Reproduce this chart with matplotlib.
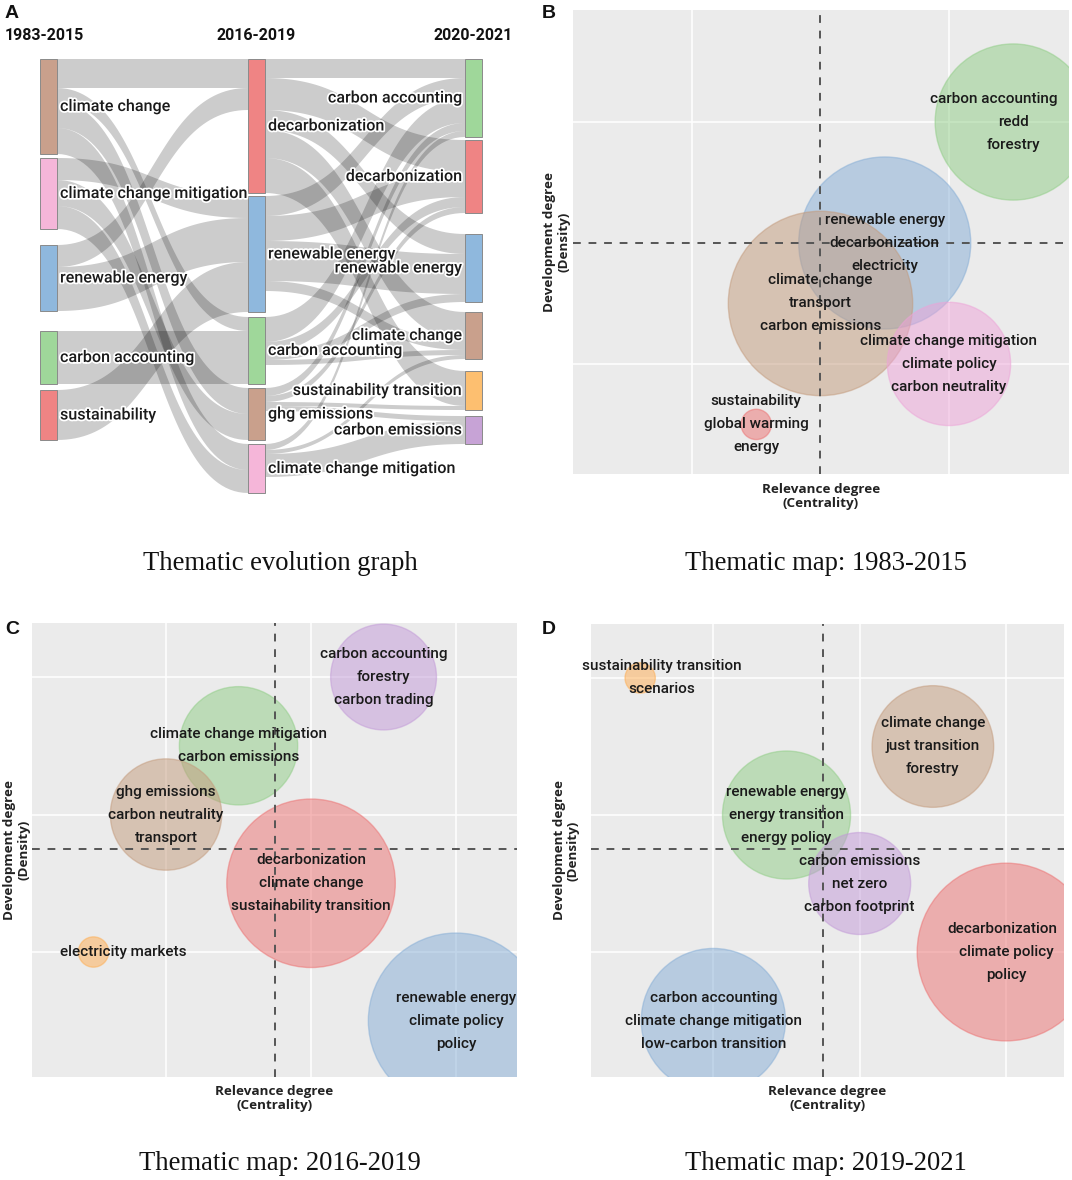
import numpy as np
import matplotlib
matplotlib.use("Agg")
import matplotlib.pyplot as plt
from matplotlib.patches import Polygon, Rectangle
import matplotlib.patheffects as pe
from matplotlib import font_manager

# ------------------------------------------------------------------ data
# Panel A : thematic evolution (Sankey)
periods = ["1983-2015", "2016-2019", "2020-2021"]
nodes_p1 = ["climate change", "climate change mitigation", "renewable energy",
            "carbon accounting", "sustainability"]
nodes_p2 = ["decarbonization", "renewable energy", "carbon accounting",
            "ghg emissions", "climate change mitigation"]
nodes_p3 = ["carbon accounting", "decarbonization", "renewable energy",
            "climate change", "sustainability transition", "carbon emissions"]
# flows period1 -> period2 (rows: nodes_p1, cols: nodes_p2)
flows_12 = [
    [29, 0, 14, 26, 26],
    [0, 22, 0, 26, 23],
    [22, 44, 0, 0, 0],
    [0, 0, 53, 0, 0],
    [0, 50, 0, 0, 0],
]
# flows period2 -> period3 (rows: nodes_p2, cols: nodes_p3)
flows_23 = [
    [19, 32, 20, 28, 35, 0],
    [20, 25, 40, 10, 0, 0],
    [25, 10, 8, 5, 0, 0],
    [8, 6, 0, 0, 4, 5],
    [6, 0, 0, 4, 0, 23],
]

# Panel B : thematic map 1983-2015
B_labels = ["carbon accounting\nredd\nforestry",
            "renewable energy\ndecarbonization\nelectricity",
            "climate change\ntransport\ncarbon emissions",
            "climate change mitigation\nclimate policy\ncarbon neutrality",
            "sustainability\nglobal warming\nenergy"]
B_centrality = [2.25, 1.75, 1.5, 2.0, 1.25]
B_density = [2.0, 1.5, 1.25, 1.0, 0.75]
B_freq = [61, 74, 85, 38, 2.3]

# Panel C : thematic map 2016-2019
C_labels = ["carbon accounting\nforestry\ncarbon trading",
            "climate change mitigation\ncarbon emissions",
            "ghg emissions\ncarbon neutrality\ntransport",
            "decarbonization\nclimate change\nsustainability transition",
            "electricity markets",
            "renewable energy\nclimate policy\npolicy"]
C_centrality = [2.5, 1.5, 1.0, 2.0, 0.5, 3.0]
C_density = [3.0, 2.5, 2.0, 1.5, 1.0, 0.5]
C_freq = [28, 35, 31, 71, 2.3, 77]

# Panel D : thematic map 2019-2021
D_labels = ["sustainability transition\nscenarios",
            "climate change\njust transition\nforestry",
            "renewable energy\nenergy transition\nenergy policy",
            "carbon emissions\nnet zero\ncarbon footprint",
            "decarbonization\nclimate policy\npolicy",
            "carbon accounting\nclimate change mitigation\nlow-carbon transition"]
D_centrality = [0.5, 2.5, 1.5, 2.0, 3.0, 1.0]
D_density = [3.0, 2.5, 2.0, 1.5, 1.0, 0.5]
D_freq = [2.3, 37, 41, 26, 79, 52]

captions = ["Thematic evolution graph", "Thematic map: 1983-2015",
            "Thematic map: 2016-2019", "Thematic map: 2019-2021"]

# ------------------------------------------------------------------ style
BROWN, PINK, BLUE, GREEN = "#c9a08c", "#f5b6d9", "#8fb8dd", "#9fd79a"
RED, ORANGE, PURPLE = "#ef8484", "#fdbf70", "#c7a3d6"
node_colors = [[BROWN, PINK, BLUE, GREEN, RED],
               [RED, BLUE, GREEN, BROWN, PINK],
               [GREEN, RED, BLUE, BROWN, ORANGE, PURPLE]]
BUB = {"green": "#8fcd85", "blue": "#85add6", "brown": "#c39a7b",
       "pink": "#eda3d8", "red": "#ec7070", "orange": "#ffad50",
       "purple": "#c299d8"}
B_colors = [BUB[c] for c in ["green", "blue", "brown", "pink", "red"]]
C_colors = [BUB[c] for c in ["purple", "green", "brown", "red", "orange", "blue"]]
D_colors = [BUB[c] for c in ["orange", "brown", "green", "purple", "red", "blue"]]

avail = {f.name for f in font_manager.fontManager.ttflist}
SANS = "Roboto" if "Roboto" in avail else "DejaVu Sans"
LABF = "Open Sans" if "Open Sans" in avail else SANS
NARROW = "Liberation Sans Narrow" if "Liberation Sans Narrow" in avail else None
SERIF = "Liberation Serif" if "Liberation Serif" in avail else "DejaVu Serif"
ARIAL = "Liberation Sans" if "Liberation Sans" in avail else "DejaVu Sans"

W, H, DPI = 1072, 1180, 100
fig = plt.figure(figsize=(W / DPI, H / DPI), dpi=DPI)
fig.patch.set_facecolor("white")
renderer = fig.canvas.get_renderer()


def px_axes(x0, y0, x1, y1):
    return fig.add_axes([x0 / W, 1 - y1 / H, (x1 - x0) / W, (y1 - y0) / H])


def fig_text(x, y, s, **kw):
    return fig.text(x / W, 1 - y / H, s, **kw)


# ------------------------------------------------------------------ Panel A
axA = px_axes(0, 0, 540, 520)
axA.set_xlim(0, 540)
axA.set_ylim(520, 0)
axA.axis("off")

F12 = np.array(flows_12, float)
F23 = np.array(flows_23, float)
vals = [F12.sum(1), np.maximum(F12.sum(0), F23.sum(1)), F23.sum(0)]
col_x = [40, 248, 465]
node_w = 17
top = 59
gaps = [[4, 16, 20, 6], [3, 5, 4, 4], [3, 21, 10, 12, 6]]

node_y = []
for c in range(3):
    ys = []
    y = top
    for i, v in enumerate(vals[c]):
        ys.append(y)
        y += v + (gaps[c][i] if i < len(gaps[c]) else 0)
    node_y.append(ys)


def band(x0, y0a, y0b, x1, y1a, y1b, n=60):
    t = np.linspace(0, 1, n)
    xm = (x0 + x1) / 2
    X = (1 - t) ** 3 * x0 + 3 * (1 - t) ** 2 * t * xm + 3 * (1 - t) * t ** 2 * xm + t ** 3 * x1

    def yy(a, b):
        return (1 - t) ** 3 * a + 3 * (1 - t) ** 2 * t * a + 3 * (1 - t) * t ** 2 * b + t ** 3 * b
    top_c = np.column_stack([X, yy(y0a, y1a)])
    bot_c = np.column_stack([X, yy(y0b, y1b)])
    return np.vstack([top_c, bot_c[::-1]])


for c, F in enumerate([F12, F23]):
    ns, nt = F.shape
    in_pos = np.zeros_like(F)
    for j in range(nt):
        y = node_y[c + 1][j]
        for i in range(ns):
            in_pos[i, j] = y
            y += F[i, j]
    for i in range(ns):
        y = node_y[c][i]
        for j in range(nt):
            v = F[i, j]
            if v <= 0:
                continue
            poly = band(col_x[c] + node_w, y, y + v, col_x[c + 1],
                        in_pos[i, j], in_pos[i, j] + v)
            axA.add_patch(Polygon(poly, closed=True, facecolor="black",
                                  alpha=0.2, edgecolor="none", zorder=1))
            y += v

halo = [pe.withStroke(linewidth=2.5, foreground="white")]
node_names = [nodes_p1, nodes_p2, nodes_p3]
for c in range(3):
    for i, name in enumerate(node_names[c]):
        y0 = node_y[c][i]
        v = vals[c][i]
        axA.add_patch(Rectangle((col_x[c], y0), node_w, v,
                                facecolor=node_colors[c][i], edgecolor="#8a8a8a",
                                lw=0.7, zorder=3))
        kw = dict(va="center", fontsize=11.6, family=SANS, fontweight="medium",
                  color="#1a1a1a", path_effects=halo, zorder=5)
        if c < 2:
            axA.text(col_x[c] + node_w + 3, y0 + v / 2, name, ha="left", **kw)
        else:
            axA.text(col_x[c] - 3, y0 + v / 2, name, ha="right", **kw)

for c in range(3):
    cx = col_x[c] + node_w / 2
    kw = dict(va="center", fontweight="bold", color="#111111")
    if NARROW:
        kw.update(family=NARROW, fontsize=13.5)
    else:
        kw.update(family=SANS, fontsize=11.5)
    if c == 0:
        axA.text(5, 36, periods[c], ha="left", **kw)
    else:
        axA.text(cx, 36, periods[c], ha="center", **kw)


# ------------------------------------------------------------------ maps
LINE_PX = 23          # distance between label lines (pixels)
RIGHT_LIMIT = 1057    # labels never run past this pixel column


def thematic_map(rect, labels, cx, cy, freq, colors, ref, xlim, ylim, grid,
                 label_dx, ylab_x):
    x0, y0, x1, y1 = rect
    ax = px_axes(x0, y0, x1, y1)
    ax.set_facecolor("#ebebeb")
    ax.set_xlim(*xlim)
    ax.set_ylim(*ylim)
    ax.set_xticks(grid)
    ax.set_yticks(grid)
    ax.tick_params(length=0, labelbottom=False, labelleft=False)
    ax.grid(True, color="white", lw=1.1)
    ax.set_axisbelow(True)
    for s in ax.spines.values():
        s.set_visible(False)
    r = 10 * np.sqrt(np.asarray(freq, float))
    sizes = (2 * r * 72 / DPI) ** 2
    ax.scatter(cx, cy, s=sizes, c=colors, alpha=0.5, edgecolors=colors,
               linewidths=1.0, zorder=2)
    ax.axvline(ref[0], color="#555555", ls=(0, (4, 4)), lw=1.4, zorder=3)
    ax.axhline(ref[1], color="#555555", ls=(0, (4, 4)), lw=1.4, zorder=3)
    pt = 72 / DPI
    for k, lab in enumerate(labels):
        lines = lab.split("\n")
        n = len(lines)
        for m, line in enumerate(lines):
            dy = -(m - (n - 1) / 2) * LINE_PX
            t = ax.annotate(line, (cx[k], cy[k]),
                            xytext=(label_dx[k] * pt, dy * pt),
                            textcoords="offset points", ha="center", va="center",
                            fontsize=11.0, family=SANS, fontweight="medium",
                            color="#1a1a1a", zorder=5, annotation_clip=False)
            bb = t.get_window_extent(renderer)
            if bb.x1 > RIGHT_LIMIT:
                shift = bb.x1 - RIGHT_LIMIT
                t.xyann = ((label_dx[k] - shift) * pt, dy * pt)
    fig_text((x0 + x1) / 2, y1 + 22, "Relevance degree\n(Centrality)",
             ha="center", va="center", fontsize=9.7, fontweight="bold",
             family=LABF, color="#222222", linespacing=1.1)
    fig_text(ylab_x, (y0 + y1) / 2, "Development degree\n(Density)",
             ha="center", va="center", rotation=90, fontsize=9.7,
             fontweight="bold", family=LABF, color="#222222", linespacing=1.1)
    return ax


thematic_map((573, 10, 1069, 474), B_labels, B_centrality, B_density, B_freq,
             B_colors, (1.5, 1.5), (0.537, 2.467), (0.545, 2.463), [1, 2],
             [0, 0, 0, 0, 0], 557)
thematic_map((32, 623, 517, 1077), C_labels, C_centrality, C_density, C_freq,
             C_colors, (1.75, 1.75), (0.076, 3.42), (0.091, 3.393), [1, 2, 3],
             [0, 0, 0, 0, 30, 0], 17)
thematic_map((591, 624, 1064, 1077), D_labels, D_centrality, D_density, D_freq,
             D_colors, (1.75, 1.75), (0.164, 3.396), (0.088, 3.394), [1, 2, 3],
             [22, 0, 0, 0, 0, 0], 566)

# ------------------------------------------------------------------ letters & captions
for letter, (x, y) in zip("ABCD", [(5, 13), (542, 13), (5, 630), (542, 630)]):
    fig_text(x, y, letter, ha="left", va="center", fontsize=14,
             fontweight="bold", family=ARIAL, color="#111111")

for cap, (x, y) in zip(captions, [(280, 564), (826, 564), (280, 1164), (826, 1164)]):
    fig_text(x, y, cap, ha="center", va="center", fontsize=19.2, family=SERIF,
             color="#111111")

fig.savefig("out.png", dpi=DPI, facecolor="white")
